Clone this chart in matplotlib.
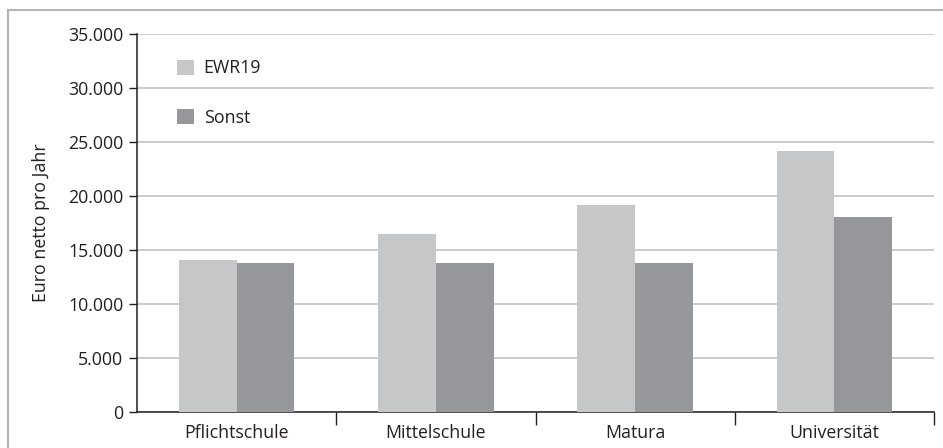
import matplotlib.pyplot as plt
import numpy as np
from matplotlib.patches import Rectangle
from matplotlib.ticker import FuncFormatter, FixedLocator

plt.rcParams['font.family'] = ['Open Sans', 'DejaVu Sans']

# Education levels and net annual income (Euro)
categories = ["Pflichtschule", "Mittelschule", "Matura", "Universität"]
ewr19 = [14100, 16450, 19200, 24150]
sonst = [13750, 13750, 13750, 18000]
series_names = ["EWR19", "Sonst"]
y_ticks = [0, 5000, 10000, 15000, 20000, 25000, 30000, 35000]

c_light = "#c6c7c9"
c_dark = "#96979b"
c_text = "#231f20"
fs = 12.8

fig = plt.figure(figsize=(9.43, 4.48), dpi=100)
ax = fig.add_axes([0.1453, 0.0810, 0.8452, 0.8431])

# light grey frame round the chart area
fig.patches.append(Rectangle((8 / 943, -0.1), 1.2, 1 - 10 / 448 + 0.1,
                             transform=fig.transFigure, fill=False,
                             edgecolor="#b4b4b4", linewidth=1.5))

x = np.arange(len(categories))
w = 0.29
ax.bar(x - w / 2, ewr19, w, color=c_light, label=series_names[0], zorder=3)
ax.bar(x + w / 2, sonst, w, color=c_dark, label=series_names[1], zorder=3)

ax.set_xlim(-0.5, len(categories) - 0.5)
ax.set_ylim(0, 35000)
ax.set_yticks(y_ticks)
ax.yaxis.set_major_formatter(FuncFormatter(lambda v, p: f"{int(v):,}".replace(",", ".")))
ax.yaxis.grid(True, color="#c2c2c2", linewidth=1.2, zorder=0)
ax.set_axisbelow(True)

ax.set_xticks(x)
ax.set_xticklabels(categories)
ax.xaxis.set_minor_locator(FixedLocator(np.arange(0.5, len(categories), 1.0)))
ax.tick_params(axis="x", which="major", length=0, pad=9, labelsize=fs, colors=c_text)
ax.tick_params(axis="x", which="minor", length=9, width=1, color=c_text, direction="out")
ax.tick_params(axis="y", length=6, width=1, color=c_text, labelsize=fs, pad=4,
               labelcolor=c_text)

for s in ["top", "right"]:
    ax.spines[s].set_visible(False)
for s in ["left", "bottom"]:
    ax.spines[s].set_color(c_text)
    ax.spines[s].set_linewidth(1.1)

ax.set_ylabel("Euro netto pro Jahr", fontsize=fs, color=c_text, labelpad=13)

leg = ax.legend(loc="upper left", bbox_to_anchor=(0.03, 0.975), frameon=False,
                fontsize=fs, handlelength=0.95, handleheight=0.95,
                labelspacing=1.75, handletextpad=0.55)
for t in leg.get_texts():
    t.set_color(c_text)

fig.savefig("out.png", dpi=100)
